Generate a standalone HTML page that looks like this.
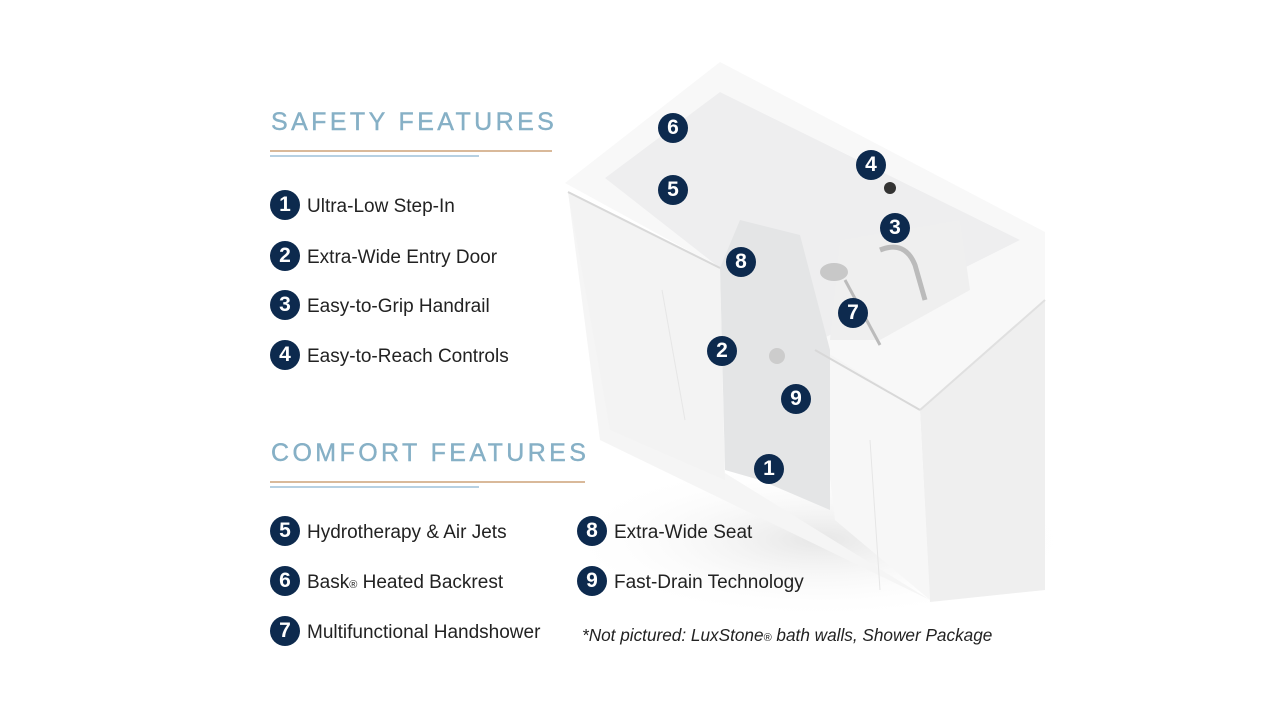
<!DOCTYPE html>
<html><head><meta charset="utf-8"><style>
html,body{margin:0;padding:0;background:#fff;}
body{width:1280px;height:720px;position:relative;overflow:hidden;font-family:"Liberation Sans",Arial,sans-serif;}
.h{position:absolute;left:271px;font-size:25px;letter-spacing:3.4px;color:#86b0c6;font-weight:normal;-webkit-text-stroke:0.4px #86b0c6;}
.l{position:absolute;height:2px;}
.it{position:absolute;font-size:19px;color:#222;line-height:30px;white-space:nowrap;}
.it span.t{position:relative;top:2px;}
.b{display:inline-block;width:30px;height:30px;border-radius:50%;background:#0d2a4e;color:#fff;font-weight:bold;font-size:21px;text-align:center;line-height:30px;vertical-align:top;margin-right:7px;}
.mk{position:absolute;width:30px;height:30px;border-radius:50%;background:#0d2a4e;color:#fff;font-weight:bold;font-size:21px;text-align:center;line-height:30px;}
sub{font-size:11px;vertical-align:baseline;}
</style></head><body>
<svg style="position:absolute;left:0;top:0" width="1280" height="720">
<defs><radialGradient id="sh" cx="0.5" cy="0.5" r="0.5"><stop offset="0" stop-color="#e6e6e6"/><stop offset="1" stop-color="#fff" stop-opacity="0"/></radialGradient></defs>
<ellipse cx="820" cy="540" rx="260" ry="80" fill="url(#sh)"/>
<polygon points="568,192 720,268 720,470 930,600 930,420 815,350 815,340 1045,240 1045,590 930,600 600,440" fill="#f5f5f5"/>
<polygon points="568,192 720,268 725,480 610,430" fill="#f3f3f3"/>
<polygon points="920,410 1045,300 1045,590 930,602" fill="#efefef"/>
<polygon points="815,350 920,410 930,600 835,520" fill="#f7f7f7"/>
<polygon points="565,183 720,62 1045,232 1045,300 920,410 815,345 815,335 1020,240 720,92 605,178 720,250 720,268" fill="#f8f8f8"/>
<polygon points="605,178 720,92 1020,240 820,340 815,350 720,268" fill="#eeeeef"/>
<polygon points="720,268 740,220 800,235 830,350 830,510 760,480 725,470" fill="#e4e5e6"/>
<polygon points="840,240 960,220 970,290 880,340 830,340" fill="#efefef"/>
<line x1="568" y1="192" x2="720" y2="268" stroke="#d8d8d8" stroke-width="2"/>
<line x1="815" y1="350" x2="920" y2="410" stroke="#d8d8d8" stroke-width="2"/>
<line x1="920" y1="410" x2="1045" y2="300" stroke="#e0e0e0" stroke-width="2"/>
<line x1="662" y1="290" x2="685" y2="420" stroke="#e6e6e6"/>
<line x1="870" y1="440" x2="880" y2="590" stroke="#e6e6e6"/>
<circle cx="890" cy="188" r="6" fill="#333"/>
<circle cx="777" cy="356" r="8" fill="#ccc"/>
<path d="M880,250 Q905,240 915,265 L925,300" stroke="#bbb" stroke-width="5" fill="none"/>
<ellipse cx="834" cy="272" rx="14" ry="9" fill="#c8c8c8"/>
<line x1="845" y1="280" x2="880" y2="345" stroke="#bbb" stroke-width="3"/>
</svg>
<div class="h" style="top:108px">SAFETY FEATURES</div>
<div class="l" style="left:270px;top:150px;width:282px;background:#d9b99a"></div>
<div class="l" style="left:270px;top:155px;width:209px;background:#b6d0e2"></div>
<div class="h" style="top:439px">COMFORT FEATURES</div>
<div class="l" style="left:270px;top:481px;width:315px;background:#d9b99a"></div>
<div class="l" style="left:270px;top:486px;width:209px;background:#b6d0e2"></div>
<div class="it" style="left:270px;top:190px"><span class="b">1</span><span class="t">Ultra-Low Step-In</span></div>
<div class="it" style="left:270px;top:241px"><span class="b">2</span><span class="t">Extra-Wide Entry Door</span></div>
<div class="it" style="left:270px;top:290px"><span class="b">3</span><span class="t">Easy-to-Grip Handrail</span></div>
<div class="it" style="left:270px;top:340px"><span class="b">4</span><span class="t">Easy-to-Reach Controls</span></div>
<div class="it" style="left:270px;top:516px"><span class="b">5</span><span class="t">Hydrotherapy &amp; Air Jets</span></div>
<div class="it" style="left:270px;top:566px"><span class="b">6</span><span class="t">Bask<sub>®</sub> Heated Backrest</span></div>
<div class="it" style="left:270px;top:616px"><span class="b">7</span><span class="t">Multifunctional Handshower</span></div>
<div class="it" style="left:577px;top:516px"><span class="b">8</span><span class="t">Extra-Wide Seat</span></div>
<div class="it" style="left:577px;top:566px"><span class="b">9</span><span class="t">Fast-Drain Technology</span></div>
<div class="it" style="left:582px;top:620px;font-style:italic;font-size:17.2px">*Not pictured: LuxStone<sub>®</sub> bath walls, Shower Package</div>
<div class="mk" style="left:658px;top:113px">6</div>
<div class="mk" style="left:658px;top:175px">5</div>
<div class="mk" style="left:856px;top:150px">4</div>
<div class="mk" style="left:880px;top:213px">3</div>
<div class="mk" style="left:726px;top:247px">8</div>
<div class="mk" style="left:838px;top:298px">7</div>
<div class="mk" style="left:707px;top:336px">2</div>
<div class="mk" style="left:781px;top:384px">9</div>
<div class="mk" style="left:754px;top:454px">1</div>
</body></html>
